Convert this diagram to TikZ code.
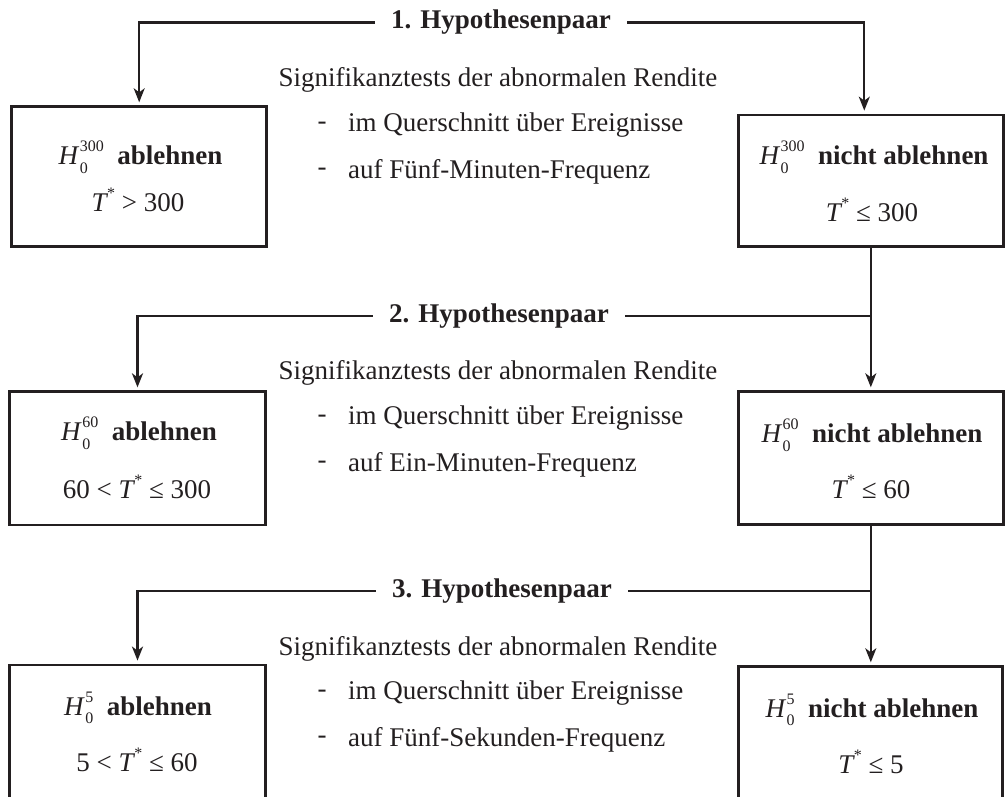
\documentclass[tikz,border=0pt]{standalone}
\usepackage{fontspec}
\setmainfont{Liberation Serif}
\usetikzlibrary{arrows.meta}
\definecolor{ink}{RGB}{35,31,32}
% small figures for indices
\newcommand{\indexsize}{\fontsize{16}{16}\selectfont}
% H with subscript 0 and a superscript level stacked on top of each other
\newcommand{\hypsym}[1]{\textit{H}\kern0.5pt\makebox[0pt][l]{\raisebox{-0.32em}{\indexsize 0}}\raisebox{0.48em}{\indexsize #1}}
% hypothesis label: H_0^{level} followed by the decision in bold
\newcommand{\hyplabel}[2]{\hypsym{#1}\hspace{0.5em}\textbf{#2}}
% T with a raised asterisk
\newcommand{\Tstar}{\textit{T}\kern-1pt\raisebox{0.5em}{\indexsize *}}

\begin{document}
\begin{tikzpicture}[x=1pt, y=-1pt,
  font=\fontsize{27}{32}\selectfont,
  every node/.style={text=ink, inner sep=0pt},
  decision/.style={draw=ink, line width=2.8pt, rectangle},
  pairtitle/.style={font=\fontsize{27}{32}\selectfont\bfseries, inner xsep=16pt},
  link/.style={draw=ink, line width=2.2pt},
  arrowlink/.style={link, -{Stealth[length=14pt, width=11pt, inset=4pt]}, shorten >=3pt},
  dashmark/.style={anchor=center},
  item/.style={anchor=west}
]
\useasboundingbox (0,0) rectangle (1005,797);
\clip (0,0) rectangle (1005,797);

% ---------- decision boxes ----------
\node[decision, minimum width=255pt, minimum height=140pt] (lb1) at (139.2,176.7) {};
\node[decision, minimum width=265pt, minimum height=131.7pt] (rb1) at (870.8,180.9) {};
\node[decision, minimum width=256.4pt, minimum height=133.3pt] (lb2) at (137.5,458.4) {};
\node[decision, minimum width=265pt, minimum height=132.6pt] (rb2) at (870.8,458.0) {};
\node[decision, minimum width=256.4pt, minimum height=140pt] (lb3) at (137.5,735) {};
\node[decision, minimum width=264pt, minimum height=140pt] (rb3) at (870.8,736.7) {};

% ---------- box contents ----------
\node (lb1a) at (140.5,157) {\hyplabel{300}{ablehnen}};
\node (lb1b) at (138,200) {\Tstar\ > 300};
\node (rb1a) at (874,157) {\hyplabel{300}{nicht ablehnen}};
\node (rb1b) at (872,210) {\Tstar\ ≤ 300};

\node (lb2a) at (139,433) {\hyplabel{60}{ablehnen}};
\node (lb2b) at (137,487) {60 < \Tstar\ ≤ 300};
\node (rb2a) at (872,435) {\hyplabel{60}{nicht ablehnen}};
\node (rb2b) at (871,487) {\Tstar\ ≤ 60};

\node (lb3a) at (138,708) {\hyplabel{5}{ablehnen}};
\node (lb3b) at (137,760) {5 < \Tstar\ ≤ 60};
\node (rb3a) at (872,710) {\hyplabel{5}{nicht ablehnen}};
\node (rb3b) at (871,762) {\Tstar\ ≤ 5};

% ---------- hypothesis pair titles ----------
\node[pairtitle] (t1) at (501,22.5) {1. Hypothesenpaar};
\node[pairtitle] (t2) at (499,316) {2. Hypothesenpaar};
\node[pairtitle] (t3) at (502,591) {3. Hypothesenpaar};

% ---------- test descriptions ----------
\node (s1) at (498,80) {Signifikanztests der abnormalen Rendite};
\node[dashmark] (d1a) at (322,126) {-};
\node[item] (i1a) at (348,125) {im Querschnitt über Ereignisse};
\node[dashmark] (d1b) at (322,172) {-};
\node[item] (i1b) at (348,171.5) {auf Fünf-Minuten-Frequenz};

\node (s2) at (498,372.5) {Signifikanztests der abnormalen Rendite};
\node[dashmark] (d2a) at (322,419) {-};
\node[item] (i2a) at (348,418) {im Querschnitt über Ereignisse};
\node[dashmark] (d2b) at (322,465) {-};
\node[item] (i2b) at (348,465) {auf Ein-Minuten-Frequenz};

\node (s3) at (498,649) {Signifikanztests der abnormalen Rendite};
\node[dashmark] (d3a) at (322,694) {-};
\node[item] (i3a) at (348,693.5) {im Querschnitt über Ereignisse};
\node[dashmark] (d3b) at (322,740) {-};
\node[item] (i3b) at (348,739.5) {auf Fünf-Sekunden-Frequenz};

% ---------- connectors ----------
% first pair
\draw[arrowlink] (t1.west) -| (lb1.north);
\draw[arrowlink] (t1.east) -| ([xshift=-6.5pt]rb1.north);
% second pair
\draw[arrowlink] (rb1.south) -- (rb2.north);
\draw[link] (t2.east) -- (t2.east -| rb1.south);
\draw[arrowlink] (t2.west) -| (lb2.north);
% third pair
\draw[arrowlink] (rb2.south) -- (rb3.north);
\draw[link] (t3.east) -- (t3.east -| rb2.south);
\draw[arrowlink] (t3.west) -| (lb3.north);
\end{tikzpicture}
\end{document}
